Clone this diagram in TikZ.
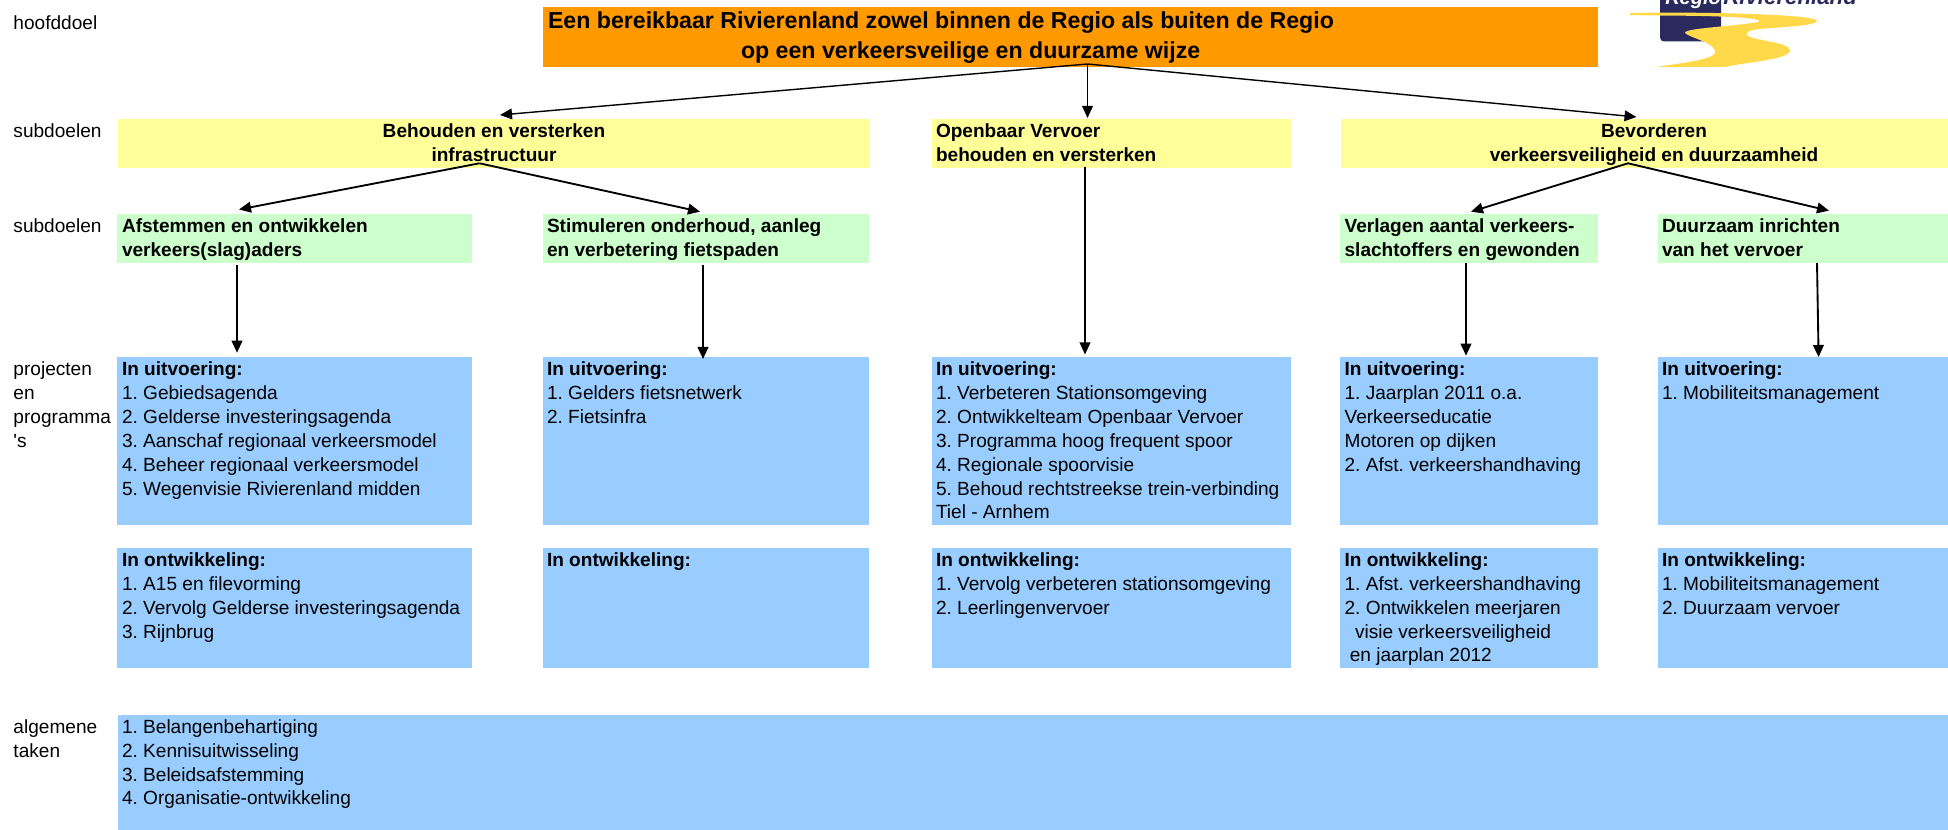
\documentclass[tikz,border=0pt]{standalone}
\usepackage{fontspec}
\usetikzlibrary{arrows.meta}
\newfontfamily\arial{Liberation Sans}
\definecolor{cOrange}{HTML}{FF9900}
\definecolor{cYellow}{HTML}{FFFF99}
\definecolor{cGreen}{HTML}{CCFFCC}
\definecolor{cBlue}{HTML}{99CCFF}
\definecolor{cNavy}{HTML}{2B2A5E}
\definecolor{cRiver}{HTML}{FFD94A}
\frenchspacing
\tikzset{
  panel/.style={rectangle,draw=none,inner sep=0pt,outer sep=0pt,anchor=north west},
  txt/.style={inner sep=0pt,outer sep=0pt,anchor=base west,text=black,font=\arial\fontsize{14.3}{17.85}\selectfont},
  ctxt/.style={txt,anchor=base},
  boldtxt/.style={txt,font=\arial\bfseries\fontsize{14.3}{17.85}\selectfont},
  boldctxt/.style={ctxt,font=\arial\bfseries\fontsize{14.3}{17.85}\selectfont},
  titletxt/.style={inner sep=0pt,outer sep=0pt,anchor=base west,font=\arial\bfseries\fontsize{17.36}{22.5}\selectfont},
  thick arrow/.style={-{Triangle[length=9pt,width=8pt]},line width=1.4pt,black},
  thin arrow/.style={-{Triangle[length=9pt,width=8pt]},line width=1.05pt,black},
}
\newcommand{\panelbox}[6]{\node[panel,fill=#2,minimum width={(#5-#3)*0.75pt},minimum height={(#6-#4)*0.75pt}] (#1) at (#3,#4) {};}
\newcommand{\lines}[1]{\begin{tabular}[t]{@{}l@{}}#1\end{tabular}}
\begin{document}
\begin{tikzpicture}[x=0.75pt,y=-0.75pt]
\useasboundingbox (0,0) rectangle (1948,830);
% logo
\begin{scope}
\clip (0,0) rectangle (1948,830);
\fill[cNavy,rounded corners=3pt] (1660,-12) rectangle (1721,41.5);
\node[inner sep=0pt,anchor=base west,text=white,font=\arial\bfseries\itshape\fontsize{15}{18}\selectfont] (logoa) at (1665,5) {Regio};
\node[inner sep=0pt,anchor=base west,text=cNavy,font=\arial\bfseries\itshape\fontsize{16.7}{18}\selectfont] (logob) at (1723,5) {Rivierenland};
\fill[cRiver] (1630,13) .. controls (1680,12) and (1750,13) .. (1790,16)
  .. controls (1805,17) and (1817,19) .. (1817,21)
  .. controls (1815,26) and (1780,27) .. (1760,29)
  .. controls (1750,30) and (1745,32) .. (1747,35)
  .. controls (1752,41) and (1792,42) .. (1790,51)
  .. controls (1787,60) and (1745,62) .. (1725,67)
  -- (1657,67)
  .. controls (1680,63) and (1712,60) .. (1715,53)
  .. controls (1717,43) and (1690,38) .. (1685,33)
  .. controls (1684,28) and (1730,27) .. (1758,22)
  .. controls (1762,21) and (1758,19) .. (1745,18)
  .. controls (1710,15) and (1660,16) .. (1630,15) -- cycle;
\end{scope}
% boxes
\panelbox{main}{cOrange}{543}{7}{1598}{66.7}
\panelbox{ya}{cYellow}{118}{119.3}{870}{167.7}
\panelbox{yb}{cYellow}{932}{119.3}{1291}{167.7}
\panelbox{yc}{cYellow}{1341}{119.3}{1948}{167.7}
\panelbox{ga}{cGreen}{117}{214}{472}{263}
\panelbox{gb}{cGreen}{543}{214}{869}{263}
\panelbox{gc}{cGreen}{1340}{214}{1598}{263}
\panelbox{gd}{cGreen}{1658}{214}{1948}{263}
\panelbox{ba}{cBlue}{117}{357}{472}{524.7}
\panelbox{bb}{cBlue}{543}{357}{869}{524.7}
\panelbox{bc}{cBlue}{932}{357}{1291}{524.7}
\panelbox{bd}{cBlue}{1340}{357}{1598}{524.7}
\panelbox{be}{cBlue}{1658}{357}{1948}{524.7}
\panelbox{oa}{cBlue}{117}{548}{472}{667.7}
\panelbox{ob}{cBlue}{543}{548}{869}{667.7}
\panelbox{oc}{cBlue}{932}{548}{1291}{667.7}
\panelbox{od}{cBlue}{1340}{548}{1598}{667.7}
\panelbox{oe}{cBlue}{1658}{548}{1948}{667.7}
\panelbox{tasks}{cBlue}{118}{715}{1948}{830}
% row labels
\node[txt] (l1) at (13.5,30) {hoofddoel};
\node[txt] (l2) at (13.5,138) {subdoelen};
\node[txt] (l3) at (13.5,233) {subdoelen};
\node[txt] (l4) at (13.5,376) {\lines{projecten\\en\\programma\\'s}};
\node[txt] (l5) at (13.5,733.5) {\lines{algemene\\taken}};
% title
\node[titletxt] (t1) at (548,28.3) {Een bereikbaar Rivierenland zowel binnen de Regio als buiten de Regio};
\node[titletxt] (t2) at (741,58.3) {op een verkeersveilige en duurzame wijze};
% yellow texts
\node[boldctxt] (ya1) at (494,138) {Behouden en versterken};
\node[boldctxt] (ya2) at (494,162) {infrastructuur};
\node[boldtxt] (yb1) at (936,138) {\lines{Openbaar Vervoer\\behouden en versterken}};
\node[boldctxt] (yc1) at (1654,138) {Bevorderen};
\node[boldctxt] (yc2) at (1654,162) {verkeersveiligheid en duurzaamheid};
% green texts
\node[boldtxt] (ga1) at (122,233) {\lines{Afstemmen en ontwikkelen\\verkeers(slag)aders}};
\node[boldtxt] (gb1) at (547,233) {\lines{Stimuleren onderhoud, aanleg\\en verbetering fietspaden}};
\node[boldtxt] (gc1) at (1344.6,233) {\lines{Verlagen aantal verkeers-\\slachtoffers en gewonden}};
\node[boldtxt] (gd1) at (1662,233) {\lines{Duurzaam inrichten\\van het vervoer}};
% blue texts, row 1
\node[txt] (ba1) at (122,376) {\lines{\textbf{In uitvoering:}\\1. Gebiedsagenda\\2. Gelderse investeringsagenda\\3. Aanschaf regionaal verkeersmodel\\4. Beheer regionaal verkeersmodel\\5. Wegenvisie Rivierenland midden}};
\node[txt] (bb1) at (547,376) {\lines{\textbf{In uitvoering:}\\1. Gelders fietsnetwerk\\2. Fietsinfra}};
\node[txt] (bc1) at (936,376) {\lines{\textbf{In uitvoering:}\\1. Verbeteren Stationsomgeving\\2. Ontwikkelteam Openbaar Vervoer\\3. Programma hoog frequent spoor\\4. Regionale spoorvisie\\5. Behoud rechtstreekse trein-verbinding\\Tiel - Arnhem}};
\node[txt] (bd1) at (1344.6,376) {\lines{\textbf{In uitvoering:}\\1. Jaarplan 2011 o.a.\\Verkeerseducatie\\Motoren op dijken\\2. Afst. verkeershandhaving}};
\node[txt] (be1) at (1662,376) {\lines{\textbf{In uitvoering:}\\1. Mobiliteitsmanagement}};
% blue texts, row 2
\node[txt] (oa1) at (122,566.7) {\lines{\textbf{In ontwikkeling:}\\1. A15 en filevorming\\2. Vervolg Gelderse investeringsagenda\\3. Rijnbrug}};
\node[txt] (ob1) at (547,566.7) {\lines{\textbf{In ontwikkeling:}}};
\node[txt] (oc1) at (936,566.7) {\lines{\textbf{In ontwikkeling:}\\1. Vervolg verbeteren stationsomgeving\\2. Leerlingenvervoer}};
\node[txt] (od1) at (1344.6,566.7) {\lines{\textbf{In ontwikkeling:}\\1. Afst. verkeershandhaving\\2. Ontwikkelen meerjaren\\\hspace*{7.8pt}visie verkeersveiligheid\\\hspace*{3.9pt}en jaarplan 2012}};
\node[txt] (oe1) at (1662,566.7) {\lines{\textbf{In ontwikkeling:}\\1. Mobiliteitsmanagement\\2. Duurzaam vervoer}};
\node[txt] (tasks1) at (122,733.5) {\lines{1. Belangenbehartiging\\2. Kennisuitwisseling\\3. Beleidsafstemming\\4. Organisatie-ontwikkeling}};
% connector ends
\coordinate (mainOut) at (1087.5,64);
\coordinate (yaIn) at (500,115);
\coordinate (ybIn) at (1087.5,118);
\coordinate (ycIn) at (1636.5,117);
\coordinate (yaOut) at (479.5,163.3);
\coordinate (gaIn) at (239,209.5);
\coordinate (gbIn) at (700,211.7);
\coordinate (ycOut) at (1628,163.3);
\coordinate (gcIn) at (1471,211.7);
\coordinate (gdIn) at (1829,210.7);
\coordinate (gaOut) at (237,265);
\coordinate (baIn) at (237,352.7);
\coordinate (gbOut) at (703,265);
\coordinate (bbIn) at (703,359);
\coordinate (ybOut) at (1085,166.7);
\coordinate (bcIn) at (1085,354.5);
\coordinate (gcOut) at (1466,263);
\coordinate (bdIn) at (1466,355.7);
\coordinate (gdOut) at (1817,263);
\coordinate (beIn) at (1818.6,357);
% connectors
\draw[thin arrow] (mainOut) -- (yaIn);
\draw[thin arrow] (mainOut) -- (ybIn);
\draw[thin arrow] (mainOut) -- (ycIn);
\draw[thick arrow] (yaOut) -- (gaIn);
\draw[thick arrow] (yaOut) -- (gbIn);
\draw[thick arrow] (ycOut) -- (gcIn);
\draw[thick arrow] (ycOut) -- (gdIn);
\draw[thick arrow] (gaOut) -- (baIn);
\draw[thick arrow] (gbOut) -- (bbIn);
\draw[thin arrow] (ybOut) -- (bcIn);
\draw[thick arrow] (gcOut) -- (bdIn);
\draw[thick arrow] (gdOut) -- (beIn);
\end{tikzpicture}
\end{document}
